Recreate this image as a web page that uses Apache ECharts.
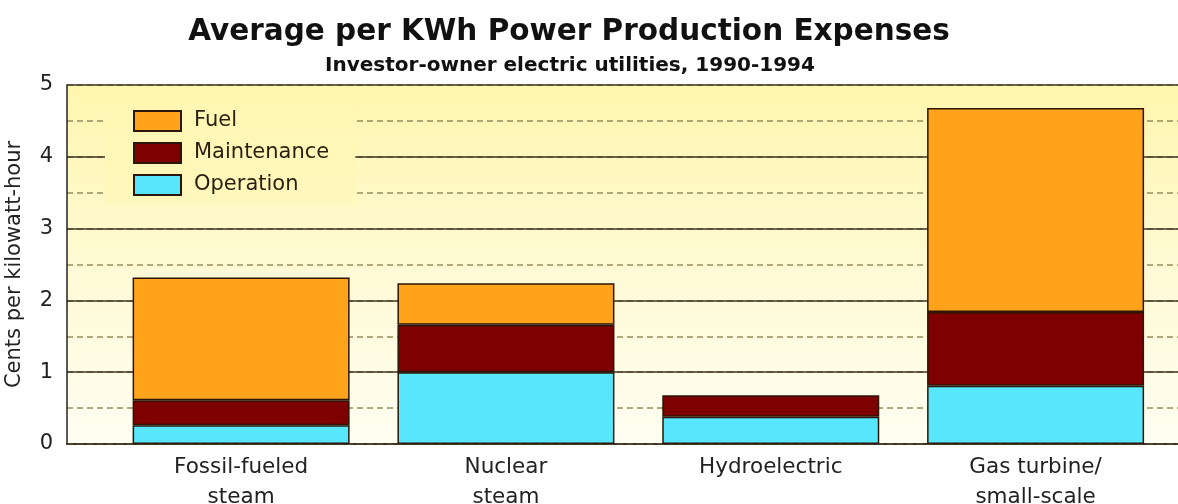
<!DOCTYPE html>
<html>
<head>
<meta charset="utf-8">
<style>
  html, body { margin: 0; padding: 0; background: #ffffff; }
  #chart { width: 1178px; height: 504px; }
</style>
<script src="https://cdn.jsdelivr.net/npm/echarts@6/dist/echarts.min.js"></script>
</head>
<body>
<div id="chart"></div>
<script>
// Power production cost components, cents per kWh
const categories = ['Fossil-fueled\nsteam', 'Nuclear\nsteam', 'Hydroelectric', 'Gas turbine/\nsmall-scale'];
const operation = [0.26, 1.00, 0.38, 0.81];
const maintenance = [0.35, 0.66, 0.30, 1.03];
const fuel = [1.71, 0.58, null, 2.84];
const legendOrder = ['Fuel', 'Maintenance', 'Operation'];

const FONT = '"DejaVu Sans", Verdana, sans-serif';
const chart = echarts.init(document.getElementById('chart'), null, { renderer: 'canvas' });

const plotBg = new echarts.graphic.LinearGradient(0, 0, 0, 1, [
  { offset: 0, color: '#fff6ae' },
  { offset: 0.5, color: '#fffad4' },
  { offset: 1, color: '#fffef2' }
]);
const legendBg = new echarts.graphic.LinearGradient(0, 0, 0, 1, [
  { offset: 0, color: '#fff7b2' },
  { offset: 1, color: '#fff8bc' }
]);

const barStyle = (color) => ({ color: color, borderColor: '#2b1608', borderWidth: 1.5 });

chart.setOption({
  animation: false,
  backgroundColor: '#ffffff',
  title: [
    {
      text: 'Average per KWh Power Production Expenses',
      left: 564, top: 12, textAlign: 'center',
      textStyle: { fontFamily: FONT, fontSize: 29.5, fontWeight: 'bold', color: '#111' }
    },
    {
      text: 'Investor-owner electric utilities, 1990-1994',
      left: 565, top: 51, textAlign: 'center',
      textStyle: { fontFamily: FONT, fontSize: 20, fontWeight: 'bold', color: '#111' }
    }
  ],
  legend: {
    data: legendOrder,
    orient: 'vertical',
    left: 105, top: 99,
    padding: [11, 26, 8, 28],
    itemWidth: 47, itemHeight: 20, itemGap: 10,
    icon: 'rect',
    backgroundColor: legendBg,
    textStyle: { fontFamily: FONT, fontSize: 21, color: '#2a1f10', padding: [0, 0, 0, 8] }
  },
  grid: [
    { left: 67, right: 0, top: 85, bottom: 60, show: true, backgroundColor: plotBg, borderWidth: 0, outerBoundsMode: 'none' },
    { left: 108.7, right: 10, top: 85, bottom: 60, outerBoundsMode: 'none' }
  ],
  xAxis: [
    {
      gridIndex: 0, type: 'value', min: 0, max: 1,
      axisLine: { show: true, lineStyle: { color: '#222', width: 1.5 } },
      axisTick: { show: false }, axisLabel: { show: false }, splitLine: { show: false }
    },
    {
      gridIndex: 0, type: 'value', min: 0, max: 1, position: 'top',
      axisLine: { show: true, lineStyle: { color: '#222', width: 1.5 } },
      axisTick: { show: false }, axisLabel: { show: false }, splitLine: { show: false }
    },
    {
      gridIndex: 1, type: 'category', data: categories,
      axisLine: { show: false }, axisTick: { show: false },
      axisLabel: { fontFamily: FONT, fontSize: 21.5, color: '#222', margin: 8, lineHeight: 30 }
    }
  ],
  yAxis: [
    {
      gridIndex: 0, type: 'value', min: 0, max: 5, interval: 1, z: 3,
      name: 'Cents per kilowatt-hour', nameLocation: 'middle', nameGap: 42,
      nameTextStyle: { fontFamily: FONT, fontSize: 21, color: '#222' },
      axisLine: { show: true, lineStyle: { color: '#222', width: 1.5 } },
      axisTick: { show: false },
      axisLabel: { fontFamily: FONT, fontSize: 21, color: '#222', margin: 14 },
      splitLine: { show: true, lineStyle: { color: '#3e3422', width: 1.5 } }
    },
    {
      gridIndex: 0, type: 'value', min: 0, max: 5, interval: 0.5, z: 2,
      axisLine: { show: false }, axisTick: { show: false }, axisLabel: { show: false },
      splitLine: { show: true, lineStyle: { color: '#9c8c5c', width: 1.5, type: [6, 4] } }
    },
    {
      gridIndex: 1, type: 'value', min: 0, max: 5, show: false
    }
  ],
  series: [
    {
      name: 'Operation', type: 'bar', stack: 'cost', xAxisIndex: 2, yAxisIndex: 2,
      barWidth: 217, z: 5, data: operation, itemStyle: barStyle('#58e6fc')
    },
    {
      name: 'Maintenance', type: 'bar', stack: 'cost', xAxisIndex: 2, yAxisIndex: 2,
      barWidth: 217, z: 5, data: maintenance, itemStyle: barStyle('#7e0000')
    },
    {
      name: 'Fuel', type: 'bar', stack: 'cost', xAxisIndex: 2, yAxisIndex: 2,
      barWidth: 217, z: 5, data: fuel, itemStyle: barStyle('#ffa31a')
    }
  ]
});
</script>
</body>
</html>
